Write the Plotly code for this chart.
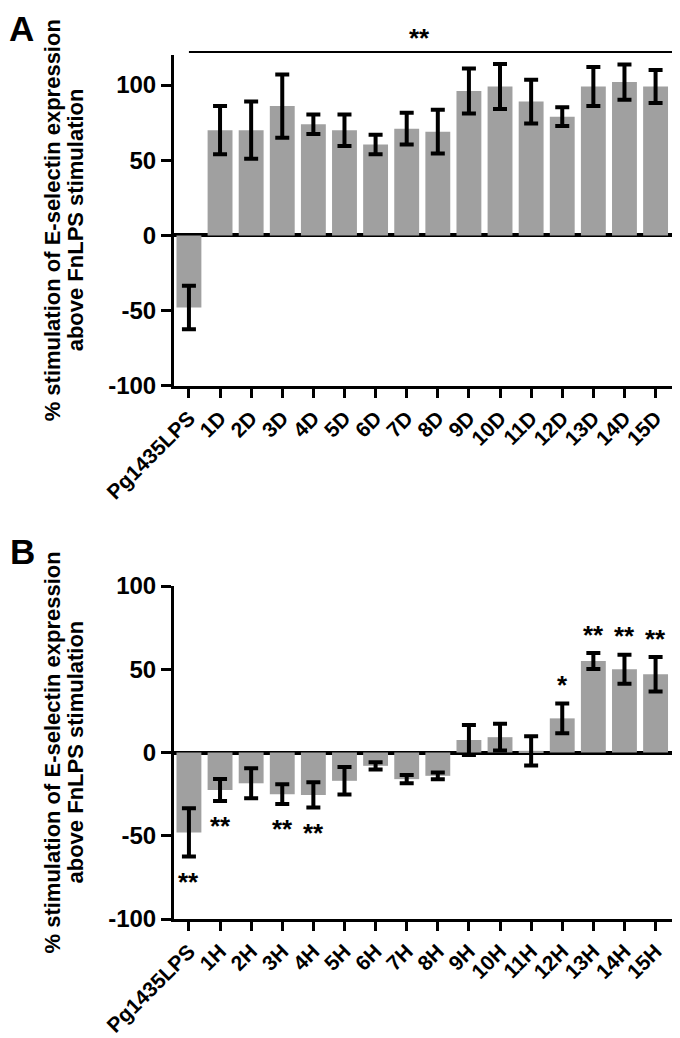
import plotly.graph_objects as go

# ---------------- data ----------------
categories_A = ["Pg1435LPS", "1D", "2D", "3D", "4D", "5D", "6D", "7D", "8D",
                "9D", "10D", "11D", "12D", "13D", "14D", "15D"]
values_A = [-48, 70, 70, 86, 74, 70, 60.5, 71, 69, 96, 99, 89, 79, 99, 102, 99]
errors_A = [14.5, 16, 19, 21, 6.5, 10.5, 6.5, 10.5, 14.5, 15, 15, 14.5, 6.3, 13, 11.7, 11]

categories_B = ["Pg1435LPS", "1H", "2H", "3H", "4H", "5H", "6H", "7H", "8H",
                "9H", "10H", "11H", "12H", "13H", "14H", "15H"]
values_B = [-48, -22.5, -18.5, -25, -25.5, -17, -8, -16, -14, 7.5, 9.2, 1, 20.5, 55, 50, 47]
errors_B = [14.5, 6.6, 9, 6, 7.6, 8.3, 2.2, 2.5, 2, 9, 8, 8.8, 9, 4.8, 8.7, 10.3]
signif_B = ["**", "**", "", "**", "**", "", "", "", "", "", "", "", "*", "**", "**", "**"]

signif_A_all = "**"
y_ticks = [-100, -50, 0, 50, 100]
y_title_1 = "% stimulation of E-selectin expression"
y_title_2 = "above FnLPS stimulation"

# ---------------- style ----------------
FONT = "Liberation Sans"
BAR = "#a0a0a0"
OFF = 8                      # page body margin
W, H = 680 - OFF, 1038 - OFF


def px_x(p):
    return (p - OFF) / W


def px_y(p):
    return 1 - (p - OFF) / H


x_dom = [px_x(174), px_x(673)]
yA_dom = [px_y(385.7), px_y(55)]
yB_dom = [px_y(919), px_y(586)]
x_range = [-0.48, 15.56]
yA_range = [-100, 120]
yB_range = [-100, 100]


def bar_trace(cats, vals, errs, xa, ya):
    return go.Bar(
        x=cats, y=vals, xaxis=xa, yaxis=ya, width=0.8,
        marker=dict(color=BAR, line=dict(width=0)),
        error_y=dict(type="data", array=errs, visible=True,
                     color="black", thickness=4, width=7),
        showlegend=False,
    )


fig = go.Figure()
fig.add_trace(bar_trace(categories_A, values_A, errors_A, "x", "y"))
fig.add_trace(bar_trace(categories_B, values_B, errors_B, "x2", "y2"))

tickfont = dict(family=FONT, size=21, color="black", weight="bold")
ytickfont = dict(family=FONT, size=24, color="black", weight="bold")


def xaxis(anchor):
    return dict(domain=x_dom, anchor=anchor, range=x_range, type="category",
                automargin=False,
                showline=True, linewidth=3, linecolor="black",
                ticks="outside", ticklen=9, tickwidth=3, tickcolor="black",
                tickangle=-45, tickfont=tickfont, showgrid=False, zeroline=False,
                fixedrange=True)


def yaxis(anchor, dom, rng):
    return dict(domain=dom, anchor=anchor, range=rng, automargin=False,
                tickvals=y_ticks, ticktext=[str(v) for v in y_ticks],
                showline=True, linewidth=3, linecolor="black",
                ticks="outside", ticklen=10, tickwidth=3, tickcolor="black",
                tickfont=ytickfont, showgrid=False,
                zeroline=True, zerolinewidth=3.5, zerolinecolor="black")


def paper_y(dom, rng, v):
    return dom[0] + (v - rng[0]) / (rng[1] - rng[0]) * (dom[1] - dom[0])


def paper_x(v):
    return x_dom[0] + (v - x_range[0]) / (x_range[1] - x_range[0]) * (x_dom[1] - x_dom[0])


annotations = []
# panel letters
letter_font = dict(family=FONT, size=35, color="black", weight="bold")
annotations.append(dict(text="A", x=0, y=1, xref="paper", yref="paper",
                        xanchor="left", yanchor="top", showarrow=False,
                        borderpad=0, font=letter_font))
annotations.append(dict(text="B", x=0, y=px_y(551), xref="paper", yref="paper",
                        xanchor="left", yanchor="middle", showarrow=False,
                        font=letter_font))

# y titles (two lines each)
title_font = dict(family=FONT, size=22, color="black", weight="bold")
for dom in (yA_dom, yB_dom):
    yc = (dom[0] + dom[1]) / 2
    annotations.append(dict(text=y_title_1, x=px_x(52), y=yc, xref="paper", yref="paper",
                            textangle=-90, showarrow=False, font=title_font,
                            xanchor="center", yanchor="middle"))
    annotations.append(dict(text=y_title_2, x=px_x(75), y=yc, xref="paper", yref="paper",
                            textangle=-90, showarrow=False, font=title_font,
                            xanchor="center", yanchor="middle"))

star_font = dict(family=FONT, size=26, color="black", weight="bold")
# panel A overall significance (above the bracket)
annotations.append(dict(text=signif_A_all, x=paper_x(7.4),
                        y=paper_y(yA_dom, yA_range, 131),
                        xref="paper", yref="paper", xanchor="center", yanchor="middle",
                        showarrow=False, font=star_font))

# panel B stars
for c, v, e, s in zip(categories_B, values_B, errors_B, signif_B):
    if not s:
        continue
    if v >= 0:
        yy = v + e + 11
    else:
        yy = v - e - 15
    annotations.append(dict(text=s, x=c, y=yy, xref="x2", yref="y2",
                            showarrow=False, font=star_font))

# bracket line across panel A
yl = paper_y(yA_dom, yA_range, 122)
shapes = [dict(type="line", xref="paper", yref="paper",
               x0=paper_x(0), x1=px_x(679.3), y0=yl, y1=yl,
               line=dict(color="black", width=2))]

fig.update_layout(
    width=W, height=H,
    margin=dict(l=0, r=0, t=0, b=0, pad=0),
    paper_bgcolor="white", plot_bgcolor="white",
    xaxis=xaxis("y"), yaxis=yaxis("x", yA_dom, yA_range),
    xaxis2=xaxis("y2"), yaxis2=yaxis("x2", yB_dom, yB_range),
    annotations=annotations, shapes=shapes,
    bargap=0.2,
)

fig.write_html("out.html")
